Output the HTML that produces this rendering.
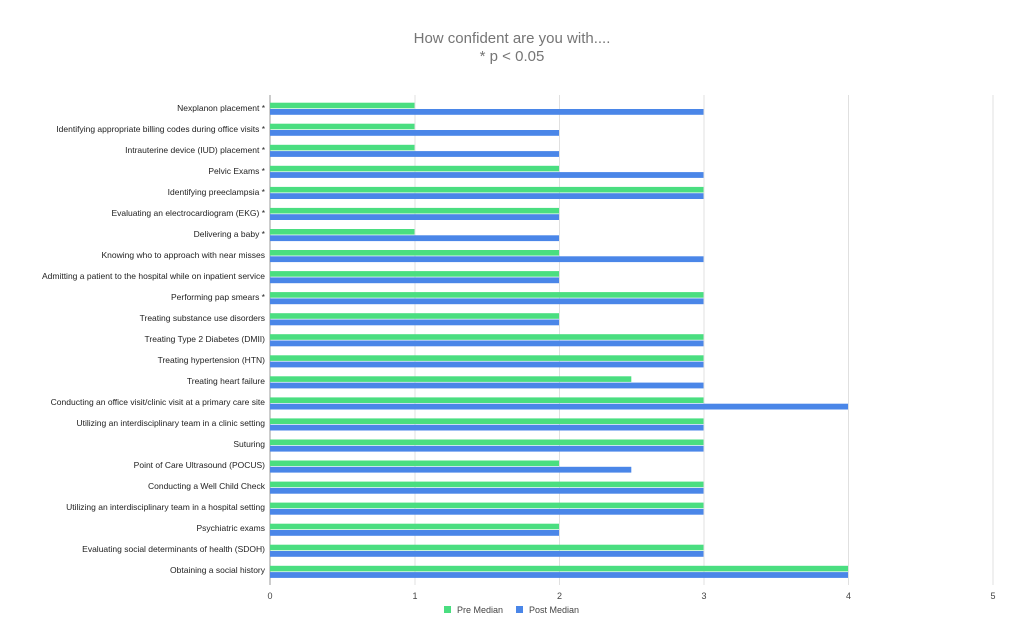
<!DOCTYPE html>
<html><head><meta charset="utf-8"><style>
body{margin:0;background:#fff;}
svg{display:block;font-family:"Liberation Sans",Arial,sans-serif;}
</style></head><body>
<svg width="1026" height="630" xmlns="http://www.w3.org/2000/svg">
<rect width="1026" height="630" fill="#fff"/>
<text x="512" y="43" text-anchor="middle" font-size="15" fill="#757575">How confident are you with....</text>
<text x="512" y="61" text-anchor="middle" font-size="15" fill="#757575">* p &lt; 0.05</text>
<g stroke="#e0e0e0" stroke-width="1">
<line x1="415" y1="95" x2="415" y2="585"/>
<line x1="559.5" y1="95" x2="559.5" y2="585"/>
<line x1="704" y1="95" x2="704" y2="585"/>
<line x1="848.5" y1="95" x2="848.5" y2="585"/>
<line x1="993" y1="95" x2="993" y2="585"/>
</g>
<g font-size="9" fill="#444" text-anchor="middle">
<text x="270" y="599">0</text><text x="415" y="599">1</text><text x="559.5" y="599">2</text><text x="704" y="599">3</text><text x="848.5" y="599">4</text><text x="993" y="599">5</text>
</g>
<g id="bars"></g>
<line x1="270" y1="95" x2="270" y2="585" stroke="#999" stroke-width="1"/>
<rect x="444" y="606" width="7" height="7" fill="#4ade80"/>
<text x="457" y="613" font-size="9" fill="#444">Pre Median</text>
<rect x="516" y="606" width="7" height="7" fill="#4a86e8"/>
<text x="529" y="613" font-size="9" fill="#444">Post Median</text>
<g font-size="8.5" fill="#222" text-anchor="end">
<text x="265" y="111">Nexplanon placement *</text>
<text x="265" y="132">Identifying appropriate billing codes during office visits *</text>
<text x="265" y="153">Intrauterine device (IUD) placement *</text>
<text x="265" y="174">Pelvic Exams *</text>
<text x="265" y="195">Identifying preeclampsia *</text>
<text x="265" y="216">Evaluating an electrocardiogram (EKG) *</text>
<text x="265" y="237">Delivering a baby *</text>
<text x="265" y="258">Knowing who to approach with near misses</text>
<text x="265" y="279">Admitting a patient to the hospital while on inpatient service</text>
<text x="265" y="300">Performing pap smears *</text>
<text x="265" y="321">Treating substance use disorders</text>
<text x="265" y="342">Treating Type 2 Diabetes (DMII)</text>
<text x="265" y="363">Treating hypertension (HTN)</text>
<text x="265" y="384">Treating heart failure</text>
<text x="265" y="405">Conducting an office visit/clinic visit at a primary care site</text>
<text x="265" y="426">Utilizing an interdisciplinary team in a clinic setting</text>
<text x="265" y="447">Suturing</text>
<text x="265" y="468">Point of Care Ultrasound (POCUS)</text>
<text x="265" y="489">Conducting a Well Child Check</text>
<text x="265" y="510">Utilizing an interdisciplinary team in a hospital setting</text>
<text x="265" y="531">Psychiatric exams</text>
<text x="265" y="552">Evaluating social determinants of health (SDOH)</text>
<text x="265" y="573">Obtaining a social history</text>
</g>
<g>
<rect x="270" y="102.7" width="144.5" height="5.6" fill="#4ade80"/><rect x="270" y="109" width="433.5" height="5.8" fill="#4a86e8"/>
<rect x="270" y="123.7" width="144.5" height="5.6" fill="#4ade80"/><rect x="270" y="130" width="289" height="5.8" fill="#4a86e8"/>
<rect x="270" y="144.8" width="144.5" height="5.6" fill="#4ade80"/><rect x="270" y="151.1" width="289" height="5.8" fill="#4a86e8"/>
<rect x="270" y="165.8" width="289" height="5.6" fill="#4ade80"/><rect x="270" y="172.1" width="433.5" height="5.8" fill="#4a86e8"/>
<rect x="270" y="186.9" width="433.5" height="5.6" fill="#4ade80"/><rect x="270" y="193.2" width="433.5" height="5.8" fill="#4a86e8"/>
<rect x="270" y="207.9" width="289" height="5.6" fill="#4ade80"/><rect x="270" y="214.2" width="289" height="5.8" fill="#4a86e8"/>
<rect x="270" y="229" width="144.5" height="5.6" fill="#4ade80"/><rect x="270" y="235.3" width="289" height="5.8" fill="#4a86e8"/>
<rect x="270" y="250" width="289" height="5.6" fill="#4ade80"/><rect x="270" y="256.3" width="433.5" height="5.8" fill="#4a86e8"/>
<rect x="270" y="271.1" width="289" height="5.6" fill="#4ade80"/><rect x="270" y="277.4" width="289" height="5.8" fill="#4a86e8"/>
<rect x="270" y="292.1" width="433.5" height="5.6" fill="#4ade80"/><rect x="270" y="298.4" width="433.5" height="5.8" fill="#4a86e8"/>
<rect x="270" y="313.2" width="289" height="5.6" fill="#4ade80"/><rect x="270" y="319.5" width="289" height="5.8" fill="#4a86e8"/>
<rect x="270" y="334.2" width="433.5" height="5.6" fill="#4ade80"/><rect x="270" y="340.5" width="433.5" height="5.8" fill="#4a86e8"/>
<rect x="270" y="355.3" width="433.5" height="5.6" fill="#4ade80"/><rect x="270" y="361.6" width="433.5" height="5.8" fill="#4a86e8"/>
<rect x="270" y="376.3" width="361.3" height="5.6" fill="#4ade80"/><rect x="270" y="382.6" width="433.5" height="5.8" fill="#4a86e8"/>
<rect x="270" y="397.4" width="433.5" height="5.6" fill="#4ade80"/><rect x="270" y="403.7" width="578" height="5.8" fill="#4a86e8"/>
<rect x="270" y="418.4" width="433.5" height="5.6" fill="#4ade80"/><rect x="270" y="424.7" width="433.5" height="5.8" fill="#4a86e8"/>
<rect x="270" y="439.5" width="433.5" height="5.6" fill="#4ade80"/><rect x="270" y="445.8" width="433.5" height="5.8" fill="#4a86e8"/>
<rect x="270" y="460.5" width="289" height="5.6" fill="#4ade80"/><rect x="270" y="466.8" width="361.3" height="5.8" fill="#4a86e8"/>
<rect x="270" y="481.6" width="433.5" height="5.6" fill="#4ade80"/><rect x="270" y="487.9" width="433.5" height="5.8" fill="#4a86e8"/>
<rect x="270" y="502.6" width="433.5" height="5.6" fill="#4ade80"/><rect x="270" y="508.9" width="433.5" height="5.8" fill="#4a86e8"/>
<rect x="270" y="523.7" width="289" height="5.6" fill="#4ade80"/><rect x="270" y="530" width="289" height="5.8" fill="#4a86e8"/>
<rect x="270" y="544.7" width="433.5" height="5.6" fill="#4ade80"/><rect x="270" y="551" width="433.5" height="5.8" fill="#4a86e8"/>
<rect x="270" y="565.8" width="578" height="5.6" fill="#4ade80"/><rect x="270" y="572.1" width="578" height="5.8" fill="#4a86e8"/>
</g>
</svg>
</body></html>
